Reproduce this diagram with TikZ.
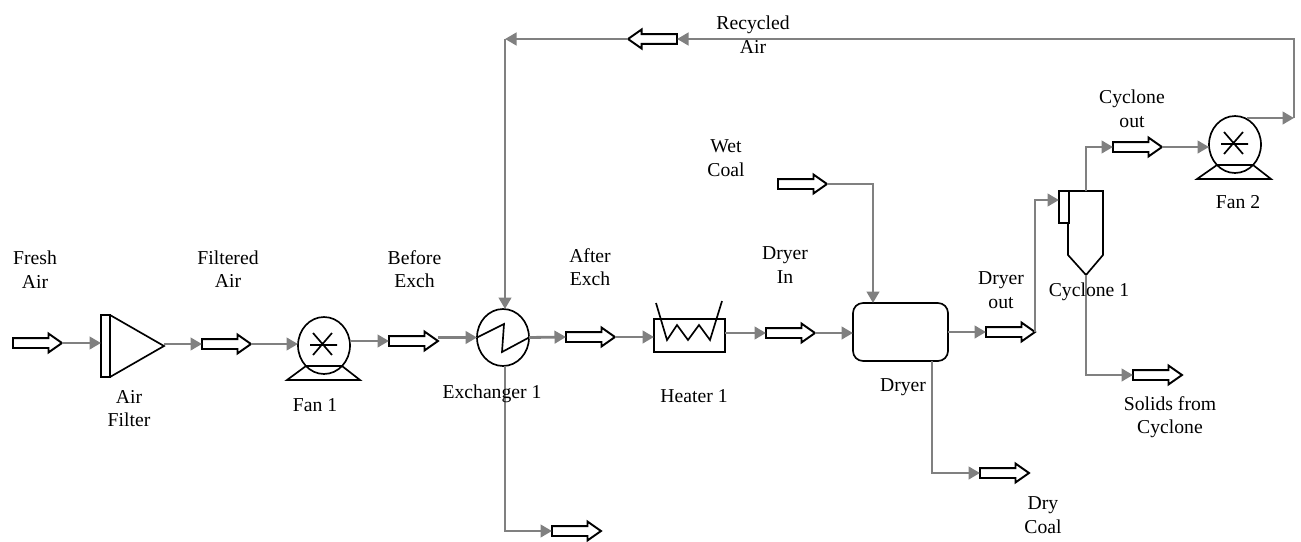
\documentclass[tikz,border=0pt]{standalone}
\usepackage{fontspec}
\setmainfont{Liberation Serif}
\usetikzlibrary{shapes,arrows.meta,positioning}
\definecolor{pipe}{RGB}{128,128,128}
\tikzstyle{stream} = [single arrow, anchor=tail, draw=black, fill=white, line width=1.1pt, inner sep=0.08cm, minimum height=0.98cm, single arrow head extend=0.09cm, single arrow head indent=0cm, single arrow tip angle=70, outer sep=0pt]
\tikzstyle{unit} = [draw=black, line width=0.95pt, fill=white, inner sep=0pt, outer sep=0pt]
\tikzstyle{fanbody} = [unit, ellipse, minimum width=1.04cm, minimum height=1.14cm]
\tikzstyle{equip} = [draw=black, line width=0.95pt]
\tikzstyle{line} = [draw=pipe, line width=1.6pt, -{Triangle[length=0.23cm,width=0.25cm]}]
\tikzstyle{lbl} = [align=center, inner sep=0pt, font=\fontsize{11.2}{13.4}\selectfont]

\begin{document}
\begin{tikzpicture}[x=0.02cm, y=-0.02cm]
	\useasboundingbox (0,0) rectangle (1301,541);

	% streams
	\node [stream] (fresh) at (13,343) {};
	\node [stream] (filtered) at (202,344) {};
	\node [stream] (before) at (389,341) {};
	\node [stream] (after) at (566,337) {};
	\node [stream] (dryerin) at (766,333) {};
	\node [stream] (wet) at (778,184) {};
	\node [stream] (dryerout) at (986,332) {};
	\node [stream] (cycout) at (1113,147) {};
	\node [stream] (solids) at (1133,375) {};
	\node [stream] (drycoal) at (980,473) {};
	\node [stream] (vent) at (552,531) {};
	\node [stream, shape border rotate=180] (recycled) at (677,39) {};

	% air filter
	\node [unit, minimum width=0.18cm, minimum height=1.24cm] (filter) at (105.5,346) {};
	\coordinate (filtertip) at (164,346);
	\path [equip] (110,315) -- (filtertip) -- (110,377);

	% fans
	\node [fanbody] (fan1) at (324,345.5) {};
	\path [equip] (306,366) -- (342,366) -- (360,380) -- (287,380) -- cycle;
	\path [equip] (310,345) -- (337,345) (313,333) -- (332,355) (332,333) -- (313,355);
	\node [fanbody] (fan2) at (1235,144.5) {};
	\path [equip] (1217,165) -- (1253,165) -- (1271,179) -- (1197,179) -- cycle;
	\path [equip] (1221,144) -- (1248,144) (1224,132) -- (1243,154) (1243,132) -- (1224,154);

	% exchanger
	\node [unit, ellipse, minimum width=1.04cm, minimum height=1.14cm] (exch) at (503,337.5) {};
	\path [equip] (exch.west) -- (504,324) -- (502,352) -- (exch.east);

	% heater
	\node [unit, minimum width=1.42cm, minimum height=0.66cm] (heater) at (689.5,335.5) {};
	\path [equip] (656,303) -- (667,340) -- (677,325) -- (688,340) -- (699,325) -- (710,340) -- (722,301);

	% dryer
	\node [unit, rounded corners=0.2cm, minimum width=1.9cm, minimum height=1.16cm] (dryer) at (900.5,332) {};

	% cyclone
	\coordinate (cyctop) at (1086,191);
	\coordinate (cyctip) at (1086,275);
	\path [equip, fill=white] (1068,191) -- (1103,191) -- (1103,255) -- (cyctip) -- (1068,255) -- cycle;
	\node [unit, minimum width=0.2cm, minimum height=0.64cm] (cycin) at (1064,207) {};

	% connectors
	\path [line] (fresh.tip) -- (filter.west |- fresh.tip);
	\path [line] (filtertip |- filtered.tail) -- (filtered.tail);
	\path [line] (filtered.tip) -- (fan1.west |- filtered.tip);
	\path [line] (fan1.east |- before.tail) -- (before.tail);
	\path [line] (before.tip |- exch.west) -- (exch.west);
	\path [line] (exch.east) -- (after.tail);
	\path [line] (after.tip) -- (heater.west |- after.tip);
	\path [line] (heater.east |- dryerin.tail) -- (dryerin.tail);
	\path [line] (dryerin.tip) -- (dryer.west |- dryerin.tip);
	\coordinate (wetin) at (873,303);
	\path [line] (wet.tip) -| (wetin);
	\path [line] (dryer.east) -- (dryerout.tail);
	\coordinate (cycport) at (1059,200);
	\path [line] (dryerout.tip) |- (cycport);
	\path [line] (cyctop) |- (cycout.tail);
	\path [line] (cycout.tip) -- (fan2.west |- cycout.tip);
	\path [line] (cyctip) |- (solids.tail);
	\coordinate (dryerbot) at (932,361);
	\path [line] (dryerbot) |- (drycoal.tail);
	\coordinate (exchout) at (505,366);
	\path [line] (exchout) |- (vent.tail);

	% recycle loop
	\coordinate (fan2out) at (1247,118);
	\coordinate (loopend) at (1294,118);
	\coordinate (loopcorner) at (1294,39);
	\coordinate (exchcorner) at (505,39);
	\coordinate (exchin) at (505,309);
	\path [line] (fan2out) -- (loopend);
	\path [line] (loopend) -- (loopcorner) -- (recycled.tail);
	\path [line] (recycled.tip) -- (exchcorner);
	\path [line] (exchcorner) -- (exchin);

	% labels
	\node [lbl] (lfresh) at (35,269.5) {Fresh\\Air};
	\node [lbl] (lfiltered) at (228,269) {Filtered\\Air};
	\node [lbl] (lbefore) at (414.5,269) {Before\\Exch};
	\node [lbl] (lafter) at (590,267) {After\\Exch};
	\node [lbl] (ldryerin) at (785,265) {Dryer\\In};
	\node [lbl] (lwet) at (726,158) {Wet\\Coal};
	\node [lbl] (ldryerout) at (1001,290) {Dryer\\out};
	\node [lbl] (lcycout) at (1132,109) {Cyclone\\out};
	\node [lbl] (lrecycled) at (753,34.5) {Recycled\\Air};
	\node [lbl] (lfilter) at (129,408.5) {Air\\Filter};
	\node [lbl] (lfan1) at (315,405) {Fan 1};
	\node [lbl] (lexch) at (492,394) {Exchanger 1};
	\node [lbl] (lheater) at (694,396) {Heater 1};
	\node [lbl] (ldryer) at (903,387) {Dryer};
	\node [lbl] (lcyc) at (1089,292) {Cyclone 1};
	\node [lbl] (lfan2) at (1238,202) {Fan 2};
	\node [lbl] (lsolids) at (1170,417) {Solids from\\Cyclone};
	\node [lbl] (ldrycoal) at (1043,515) {Dry\\Coal};
\end{tikzpicture}
\end{document}
